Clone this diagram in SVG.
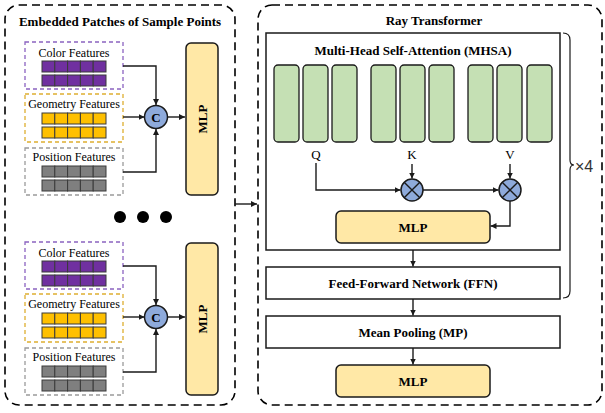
<svg xmlns="http://www.w3.org/2000/svg" width="605" height="413" viewBox="0 0 605 413">
<defs>
<style>
text{font-family:"Liberation Serif","Times New Roman",serif;fill:#000}
.b{font-weight:bold;font-size:13px}
.lbl{font-size:12px}
.qkv{font-size:13px}
.panel{fill:none;stroke:#000;stroke-width:1.6;stroke-dasharray:8,5}
.pbox{fill:#fff;stroke:#8b63c0;stroke-width:1.3;stroke-dasharray:4,3}
.ybox{fill:#fff;stroke:#deae30;stroke-width:1.3;stroke-dasharray:4,3}
.gbox{fill:#fff;stroke:#9a9a9a;stroke-width:1.3;stroke-dasharray:4,3}
.pc{fill:#7030a0;stroke:#3a3a3a;stroke-width:1}
.yc{fill:#ffc000;stroke:#3a3a3a;stroke-width:1}
.gc{fill:#7f7f7f;stroke:#3a3a3a;stroke-width:1}
.mlp{fill:#ffe8a6;stroke:#1a1a1a;stroke-width:1.5}
.op{fill:#8eaadb;stroke:#1a1a1a;stroke-width:1.5}
.green{fill:#c5e0b4;stroke:#1a1a1a;stroke-width:1.3}
.box{fill:#fff;stroke:#1a1a1a;stroke-width:1.5}
.ln{fill:none;stroke:#1a1a1a;stroke-width:1.4}
</style>
<marker id="ah" viewBox="0 0 10 10" refX="10" refY="5" markerWidth="6" markerHeight="6" markerUnits="userSpaceOnUse" orient="auto">
<path d="M0,0 L10,5 L0,10 z" fill="#1a1a1a"/>
</marker>
<g id="cellsP">
<rect class="pc" x="42" y="0" width="12.8" height="11"/><rect class="pc" x="54.8" y="0" width="12.8" height="11"/><rect class="pc" x="67.6" y="0" width="12.8" height="11"/><rect class="pc" x="80.4" y="0" width="12.8" height="11"/><rect class="pc" x="93.2" y="0" width="12.8" height="11"/>
</g>
<g id="cellsY">
<rect class="yc" x="42" y="0" width="12.8" height="11"/><rect class="yc" x="54.8" y="0" width="12.8" height="11"/><rect class="yc" x="67.6" y="0" width="12.8" height="11"/><rect class="yc" x="80.4" y="0" width="12.8" height="11"/><rect class="yc" x="93.2" y="0" width="12.8" height="11"/>
</g>
<g id="cellsG">
<rect class="gc" x="42" y="0" width="12.8" height="11"/><rect class="gc" x="54.8" y="0" width="12.8" height="11"/><rect class="gc" x="67.6" y="0" width="12.8" height="11"/><rect class="gc" x="80.4" y="0" width="12.8" height="11"/><rect class="gc" x="93.2" y="0" width="12.8" height="11"/>
</g>
<g id="embed">
<rect class="pbox" x="25" y="42" width="98" height="47"/>
<text class="lbl" x="74" y="57" text-anchor="middle">Color Features</text>
<use href="#cellsP" y="61"/><use href="#cellsP" y="75"/>
<rect class="ybox" x="25" y="94" width="98" height="48"/>
<text class="lbl" x="74" y="108" text-anchor="middle">Geometry Features</text>
<use href="#cellsY" y="113"/><use href="#cellsY" y="127"/>
<rect class="gbox" x="25" y="148" width="98" height="47"/>
<text class="lbl" x="74" y="161" text-anchor="middle">Position Features</text>
<use href="#cellsG" y="166"/><use href="#cellsG" y="180"/>
<path class="ln" d="M123,66 H156 V105" marker-end="url(#ah)"/>
<path class="ln" d="M123,117 H144.5" marker-end="url(#ah)"/>
<path class="ln" d="M123,172 H156 V129" marker-end="url(#ah)"/>
<path class="ln" d="M168,117 H185" marker-end="url(#ah)"/>
<circle class="op" cx="156" cy="117" r="11.5"/>
<text x="156" y="121.5" text-anchor="middle" style="font-weight:bold;font-size:13px">C</text>
<rect class="mlp" x="186" y="43" width="32" height="152" rx="5"/>
<text class="b" transform="translate(206.5,119) rotate(-90)" text-anchor="middle">MLP</text>
</g>
</defs>

<g id="left-panel">
<rect class="panel" x="5" y="5" width="230" height="400" rx="14"/>
<text class="b" x="120" y="26" text-anchor="middle">Embedded Patches of Sample Points</text>
</g>
<g id="embed-top"><use href="#embed"/></g>
<g id="dots">
<circle cx="120" cy="217" r="6" fill="#000"/>
<circle cx="143" cy="217" r="6" fill="#000"/>
<circle cx="166" cy="217" r="6" fill="#000"/>
</g>
<g id="embed-bottom"><use href="#embed" y="200"/></g>

<g id="right-panel">
<rect class="panel" x="258" y="5" width="344" height="400" rx="14"/>
<text class="b" x="434" y="25" text-anchor="middle">Ray Transformer</text>
</g>

<g id="mhsa">
<rect class="box" x="266" y="33" width="294" height="217"/>
<text class="b" x="413" y="55" text-anchor="middle">Multi-Head Self-Attention (MHSA)</text>
<rect class="green" x="274" y="65" width="25" height="77" rx="4"/>
<rect class="green" x="303" y="65" width="25" height="77" rx="4"/>
<rect class="green" x="332" y="65" width="25" height="77" rx="4"/>
<rect class="green" x="371" y="65" width="25" height="77" rx="4"/>
<rect class="green" x="400" y="65" width="25" height="77" rx="4"/>
<rect class="green" x="429" y="65" width="25" height="77" rx="4"/>
<rect class="green" x="468" y="65" width="25" height="77" rx="4"/>
<rect class="green" x="497" y="65" width="25" height="77" rx="4"/>
<rect class="green" x="527" y="65" width="25" height="77" rx="4"/>
<text class="qkv" x="316" y="159" text-anchor="middle">Q</text>
<text class="qkv" x="412" y="159" text-anchor="middle">K</text>
<text class="qkv" x="510" y="159" text-anchor="middle">V</text>
</g>
<g id="mul1">
<circle class="op" cx="412" cy="190" r="11"/>
<path class="ln" d="M404.2,182.2 L419.8,197.8 M419.8,182.2 L404.2,197.8"/>
</g>
<g id="mul2">
<circle class="op" cx="510" cy="190" r="11"/>
<path class="ln" d="M502.2,182.2 L517.8,197.8 M517.8,182.2 L502.2,197.8"/>
</g>
<g id="mlp-inner">
<rect class="mlp" x="336" y="211" width="154" height="32" rx="5"/>
<text class="b" x="413" y="232" text-anchor="middle">MLP</text>
</g>
<g id="ffn">
<rect class="box" x="266" y="267" width="294" height="32"/>
<text class="b" x="413" y="287.5" text-anchor="middle">Feed-Forward Network (FFN)</text>
</g>
<g id="mp">
<rect class="box" x="266" y="316" width="294" height="32"/>
<text class="b" x="413" y="336.5" text-anchor="middle">Mean Pooling (MP)</text>
</g>
<g id="mlp-out">
<rect class="mlp" x="336" y="365" width="154" height="32" rx="5"/>
<text class="b" x="413" y="386" text-anchor="middle">MLP</text>
</g>
<g id="repeat">
<path class="ln" d="M563,33 Q570,33 570,40 V160 Q570,165 574,165 Q570,165 570,170 V291 Q570,298 563,298" style="stroke-width:1.2"/>
<text x="575" y="172" style="font-family:'Liberation Sans',Arial,sans-serif;font-size:16px;fill:#333">×4</text>
</g>

<g id="connectors">
<path class="ln" d="M235,204 H257" marker-end="url(#ah)"/>
<path class="ln" d="M316,163 V190 H400.5" marker-end="url(#ah)"/>
<path class="ln" d="M412,164 V178.5" marker-end="url(#ah)"/>
<path class="ln" d="M510,164 V178.5" marker-end="url(#ah)"/>
<path class="ln" d="M423,190 H498.5" marker-end="url(#ah)"/>
<path class="ln" d="M510,201 V226 H490.5" marker-end="url(#ah)"/>
<path class="ln" d="M413,250 V266.5" marker-end="url(#ah)"/>
<path class="ln" d="M413,299 V315.5" marker-end="url(#ah)"/>
<path class="ln" d="M413,348 V364.5" marker-end="url(#ah)"/>
</g>
</svg>
